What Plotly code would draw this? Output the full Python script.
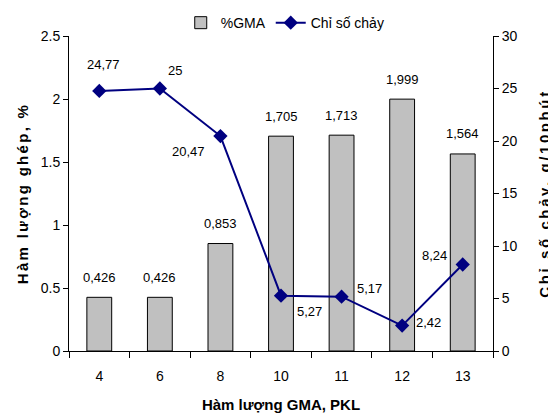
import plotly.graph_objects as go

categories = ["4", "6", "8", "10", "11", "12", "13"]
gma_pct = [0.426, 0.426, 0.853, 1.705, 1.713, 1.999, 1.564]
chi_so_chay = [24.77, 25, 20.47, 5.27, 5.17, 2.42, 8.24]

# pixel offsets of the flow-index labels relative to their markers
line_label_dx = [4, 15, -32, 28, 28, 26, -28]
line_label_dy = [26, 18, -15, -16, 8, 3, 9]

FONT = "Liberation Sans, Arial, sans-serif"
Y2_TITLE = "<b>Chỉ số chảy, g/10phút</b>"


def vn(v):
    return f"{v:g}".replace(".", ",")


fig = go.Figure()
fig.add_trace(go.Bar(
    x=categories, y=gma_pct, name="%GMA",
    marker=dict(color="#C0C0C0", line=dict(color="#000000", width=1)),
    width=0.41,
))
fig.add_trace(go.Scatter(
    x=categories, y=chi_so_chay, name="Chỉ số chảy", yaxis="y2",
    mode="lines+markers",
    line=dict(color="#000080", width=2),
    marker=dict(symbol="diamond", size=11, color="#000080"),
    cliponaxis=False,
))

annotations = []
for i, v in enumerate(gma_pct):
    annotations.append(dict(x=i, y=v, xref="x", yref="y", text=vn(v), showarrow=False,
                            yshift=20, xanchor="center", yanchor="middle",
                            font=dict(size=13, color="#000", family=FONT)))
for i, (v, dx, dy) in enumerate(zip(chi_so_chay, line_label_dx, line_label_dy)):
    annotations.append(dict(x=i, y=v, xref="x", yref="y2", text=vn(v), showarrow=False,
                            xshift=dx, yshift=dy, xanchor="center", yanchor="middle",
                            font=dict(size=13, color="#000", family=FONT)))
# right axis title
annotations.append(dict(x=1.1226, y=0.5, xref="paper", yref="paper", text=Y2_TITLE,
                        textangle=-90, showarrow=False, xanchor="center", yanchor="middle",
                        font=dict(size=15, color="#000", family=FONT)))

fig.update_layout(
    width=548, height=417,
    margin=dict(l=69, r=55, t=36, b=66, autoexpand=False),
    paper_bgcolor="white", plot_bgcolor="white",
    font=dict(family=FONT, size=14, color="#000"),
    hovermode=False,
    showlegend=True,
    legend=dict(orientation="h", x=0.51, xanchor="center", y=1.041, yanchor="middle",
                font=dict(size=14), itemwidth=30, tracegroupgap=0, bgcolor="rgba(0,0,0,0)"),
    annotations=annotations,
    xaxis=dict(type="category", showline=True, linecolor="#000", linewidth=1,
               ticks="outside", tickson="boundaries", ticklen=6, tickcolor="#000",
               tickfont=dict(size=14), range=[-0.5, len(categories) - 0.5],
               ticklabelstandoff=12, automargin=False,
               showgrid=False, zeroline=False,
               title=dict(text="<b>Hàm lượng GMA, PKL</b>", font=dict(size=15), standoff=16)),
    yaxis=dict(range=[0, 2.5], dtick=0.5, showline=True, linecolor="#000", linewidth=1,
               ticks="outside", ticklen=5, tickcolor="#000", showgrid=False, zeroline=False,
               tickfont=dict(size=14), automargin=False,
               title=dict(text="<b>Hàm lượng ghép, %</b>", font=dict(size=15), standoff=8)),
    yaxis2=dict(range=[0, 30], dtick=5, overlaying="y", side="right",
                showline=True, linecolor="#000", linewidth=1,
                ticks="outside", ticklen=5, tickcolor="#000", showgrid=False, zeroline=False,
                tickfont=dict(size=14), automargin=False),
)

post_js = """
document.body.style.margin = '0';
document.body.style.padding = '0';
document.querySelectorAll('.ytitle').forEach(function(e){
  e.style.letterSpacing = '2.3px';
});
document.querySelectorAll('.annotation-text').forEach(function(e){
  if (e.textContent.indexOf('g/10ph') >= 0) { e.style.letterSpacing = '2.6px'; }
});
"""

fig.write_html("out.html", post_script=post_js, config={"displayModeBar": False})
